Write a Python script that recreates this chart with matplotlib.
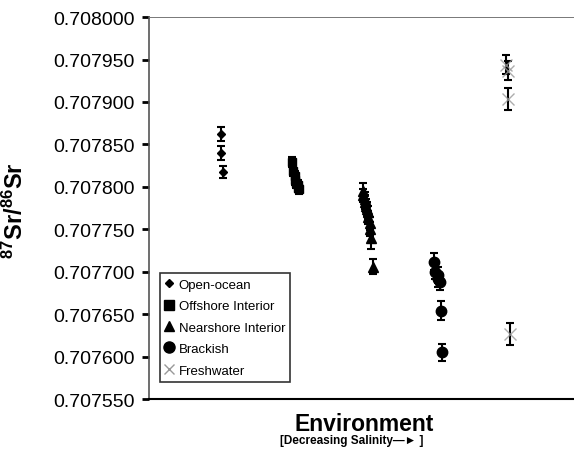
import matplotlib
matplotlib.use("Agg")
from matplotlib import pyplot as plt
from matplotlib.lines import Line2D

plt.rcParams['font.family'] = ['Liberation Sans', 'DejaVu Sans']
plt.rcParams['mathtext.fontset'] = 'custom'
plt.rcParams['mathtext.rm'] = 'Liberation Sans'
plt.rcParams['mathtext.bf'] = 'Liberation Sans:bold'

# Environment position (1 = open ocean ... 5 = freshwater), Sr ratio, error
open_x = [1.01, 1.01, 1.04]
open_y = [0.707862, 0.707840, 0.707817]
open_err = [0.000008, 0.000008, 0.000007]

off_x = [2.00, 2.02, 2.04, 2.05, 2.06, 2.08, 2.09, 2.10]
off_y = [0.707829, 0.707819, 0.707813, 0.707808, 0.707805, 0.707802, 0.707799, 0.707797]
off_err = [0.000006, 0.000006, 0.000006, 0.000006, 0.000006, 0.000006, 0.000005, 0.000005]

near_x = [2.99, 3.00, 3.02, 3.03, 3.04, 3.05, 3.06, 3.07, 3.09, 3.10, 3.11, 3.13]
near_y = [0.707795, 0.707790, 0.707786, 0.707782, 0.707778, 0.707774, 0.707770,
          0.707764, 0.707757, 0.707750, 0.707740, 0.707706]
near_err = [0.000010, 0.000008, 0.000008, 0.000008, 0.000008, 0.000008, 0.000008,
            0.000008, 0.000008, 0.000008, 0.000013, 0.000009]

brack_x = [3.99, 4.01, 4.04, 4.05, 4.08, 4.09, 4.10]
brack_y = [0.707712, 0.707700, 0.707696, 0.707691, 0.707688, 0.707654, 0.707605]
brack_err = [0.000010, 0.000009, 0.000009, 0.000009, 0.000009, 0.000011, 0.000010]

fresh_x = [5.00, 5.02, 5.02, 5.05]
fresh_y = [0.707944, 0.707937, 0.707903, 0.707627]
fresh_err = [0.000011, 0.000011, 0.000013, 0.000013]

yticks = [0.707550 + 0.00005 * i for i in range(10)]


def main():
    fig = plt.figure(figsize=(5.74, 4.52), dpi=100)
    ax = fig.add_axes([0.2596, 0.115, 0.7404, 0.845])

    ebar = dict(fmt='none', ecolor='black', elinewidth=1.5, capsize=3, capthick=1.5, zorder=2)
    ax.errorbar(open_x, open_y, yerr=open_err, **ebar)
    ax.errorbar(off_x, off_y, yerr=off_err, **ebar)
    ax.errorbar(near_x, near_y, yerr=near_err, **ebar)
    ax.errorbar(brack_x, brack_y, yerr=brack_err, **ebar)
    ax.errorbar(fresh_x, fresh_y, yerr=fresh_err, **ebar)

    ax.plot(open_x, open_y, 'D', color='black', ms=4.5, ls='none', zorder=3)
    ax.plot(off_x, off_y, 's', color='black', ms=6, ls='none', zorder=3)
    ax.plot(near_x, near_y, '^', color='black', ms=6.5, ls='none', zorder=3)
    ax.plot(brack_x, brack_y, 'o', color='black', ms=7.5, ls='none', zorder=3)
    ax.plot(fresh_x, fresh_y, 'x', color='#999999', alpha=0.8, ms=8, mew=1, ls='none', zorder=3)

    ax.set_xlim(0, 5.95)
    ax.set_ylim(0.707550, 0.708000)
    ax.set_yticks(yticks)
    ax.set_yticklabels(['%.6f' % v for v in yticks], fontsize=14)
    ax.set_xticks([])
    ax.tick_params(axis='y', direction='out', length=5, width=2, pad=5)

    ax.spines['right'].set_visible(False)
    ax.spines['top'].set_color('#777777')
    ax.spines['top'].set_linewidth(0.7)
    ax.spines['left'].set_color('#555555')
    ax.spines['left'].set_linewidth(1.2)
    ax.spines['bottom'].set_linewidth(1.5)

    fig.text(0.027, 0.535, r'$\mathbf{^{87}Sr/^{86}Sr}$', rotation=90, ha='center', va='center',
             fontsize=17)
    fig.text(0.634, 0.06, 'Environment', ha='center', va='center', fontsize=16.5, fontweight='bold')
    fig.text(0.612, 0.024, '[Decreasing Salinity\u2014\u25ba ]', ha='center', va='center',
             fontsize=8.5, fontweight='bold')

    handles = [
        Line2D([], [], marker='D', color='black', ms=4, ls='none'),
        Line2D([], [], marker='s', color='black', ms=7, ls='none'),
        Line2D([], [], marker='^', color='black', ms=7, ls='none'),
        Line2D([], [], marker='o', color='black', ms=8, ls='none'),
        Line2D([], [], marker='x', color='#999999', ms=7, ls='none'),
    ]
    labels = ['Open-ocean', 'Offshore Interior', 'Nearshore Interior', 'Brackish', 'Freshwater']
    leg = ax.legend(handles, labels, loc='lower left', bbox_to_anchor=(0.026, 0.045),
                    fontsize=9.5, frameon=True, fancybox=False, handlelength=0.6,
                    handletextpad=0.4, borderpad=0.4, labelspacing=0.7, borderaxespad=0)
    leg.get_frame().set_edgecolor('black')
    leg.get_frame().set_linewidth(1.2)

    fig.savefig('out.png', dpi=100)
    plt.close(fig)


if __name__ == "__main__":
    main()
